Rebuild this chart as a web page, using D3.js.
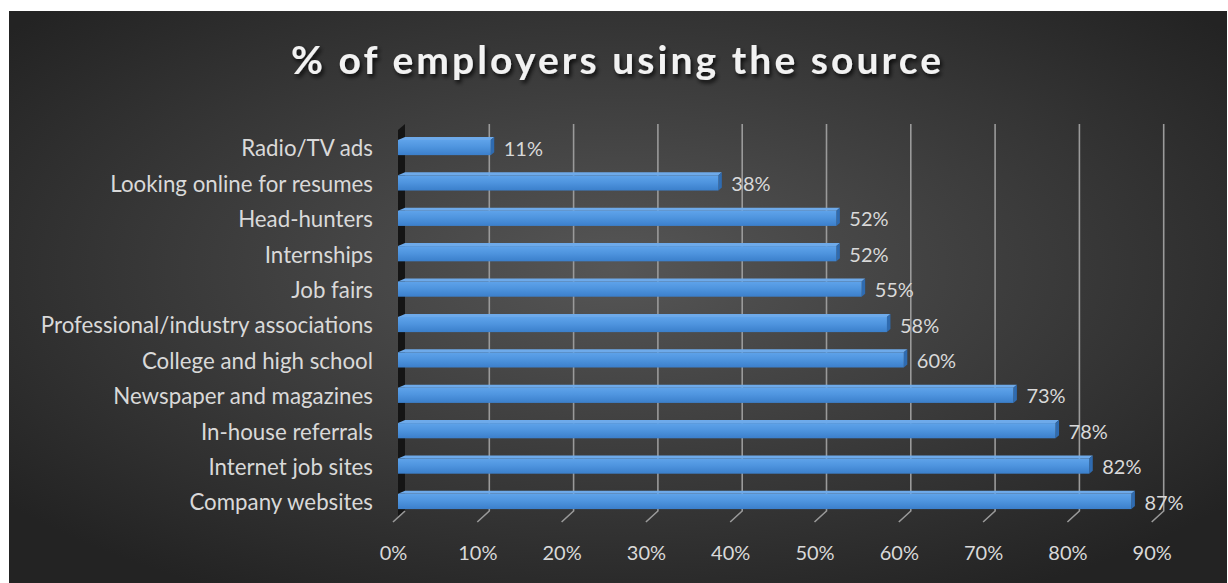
<!DOCTYPE html>
<html>
<head>
<meta charset="utf-8">
<script src="https://cdn.jsdelivr.net/npm/d3@7"></script>
<style>
  html, body { margin: 0; padding: 0; background: #fff; }
  svg { display: block; }
</style>
</head>
<body>
<div id="chart"></div>
<script>
const categories = [
  "Radio/TV ads",
  "Looking online for resumes",
  "Head-hunters",
  "Internships",
  "Job fairs",
  "Professional/industry associations",
  "College and high school",
  "Newspaper and magazines",
  "In-house referrals",
  "Internet job sites",
  "Company websites"
];
const values = [11, 38, 52, 52, 55, 58, 60, 73, 78, 82, 87];
const ticks = [0, 10, 20, 30, 40, 50, 60, 70, 80, 90];

const width = 1228, height = 583;
const depthX = 7, depthY = 6;

const svg = d3.select('#chart')
  .append('svg')
    .attr('width', width)
    .attr('height', height);

const defs = svg.append('defs');

const bg = defs.append('radialGradient')
  .attr('id', 'bg')
  .attr('cx', '50%').attr('cy', '45%').attr('r', '65%');
bg.append('stop').attr('offset', '0%').attr('stop-color', '#565656');
bg.append('stop').attr('offset', '100%').attr('stop-color', '#232323');

const barGrad = defs.append('linearGradient')
  .attr('id', 'barGrad')
  .attr('x1', 0).attr('y1', 0).attr('x2', 0).attr('y2', 1);
barGrad.append('stop').attr('offset', '0%').attr('stop-color', '#5fa3ea');
barGrad.append('stop').attr('offset', '45%').attr('stop-color', '#4f95df');
barGrad.append('stop').attr('offset', '100%').attr('stop-color', '#3b7fcb');

const shadow = defs.append('filter').attr('id', 'shadow')
  .attr('x', '-5%').attr('y', '-20%').attr('width', '110%').attr('height', '150%');
shadow.append('feDropShadow')
  .attr('dx', 2).attr('dy', 3).attr('stdDeviation', 2)
  .attr('flood-color', '#000').attr('flood-opacity', 0.8);

// background panel
svg.append('rect')
  .attr('x', 9).attr('y', 11)
  .attr('width', width - 10).attr('height', height - 11)
  .attr('fill', 'url(#bg)');

svg.append('text')
  .attr('x', 616).attr('y', 74)
  .attr('text-anchor', 'middle')
  .attr('fill', '#f2f2f2')
  .attr('font-family', 'Lato, sans-serif')
  .attr('font-size', 39)
  .attr('font-weight', 700)
  .attr('textLength', 650)
  .attr('lengthAdjust', 'spacing')
  .attr('filter', 'url(#shadow)')
  .text('% of employers using the source');

const x = d3.scaleLinear()
  .domain([0, 90])
  .range([398, 398 + 9 * 84.3]);

const y = d3.scaleBand()
  .domain(categories)
  .range([130, 519])
  .paddingInner(0.57)
  .paddingOuter(0.28);

const gridTop = 124, gridBottom = 511;

// back wall (left side)
svg.append('path')
  .attr('d', `M${x(0)},${gridTop + depthY} L${x(0) + depthX},${gridTop} L${x(0) + depthX},${gridBottom} L${x(0)},${gridBottom + depthY} Z`)
  .attr('fill', '#151515');

// gridlines with slanted floor ticks
const grid = svg.append('g');
grid.selectAll('path')
  .data(ticks.slice(1))
  .enter()
  .append('path')
    .attr('d', d => `M${x(d) + depthX},${gridTop} L${x(d) + depthX},${gridBottom} L${x(d) - 5},${gridBottom + 11}`)
    .attr('fill', 'none')
    .attr('stroke', '#9a9a9a')
    .attr('stroke-width', 1.6);
grid.append('path')
  .attr('d', `M${x(0) + depthX},${gridBottom} L${x(0) - 5},${gridBottom + 11}`)
  .attr('fill', 'none')
  .attr('stroke', '#9a9a9a')
  .attr('stroke-width', 1.6);

// bars
const bars = svg.append('g')
  .selectAll('g')
  .data(categories)
  .enter()
  .append('g');

bars.append('path')
  .attr('d', (d, i) => {
    const x0 = x(0), x1 = x(values[i]), y0 = y(d);
    return `M${x0},${y0} L${x0 + depthX},${y0 - 3} L${x1 + depthX / 2},${y0 - 3} L${x1},${y0} Z`;
  })
  .attr('fill', '#6eaaea');

bars.append('path')
  .attr('d', (d, i) => {
    const x1 = x(values[i]), y0 = y(d), h = y.bandwidth();
    return `M${x1},${y0} L${x1 + depthX / 2},${y0 - 3} L${x1 + depthX / 2},${y0 + h - 3} L${x1},${y0 + h} Z`;
  })
  .attr('fill', '#2f6bb0');

bars.append('rect')
  .attr('x', x(0))
  .attr('y', d => y(d))
  .attr('width', (d, i) => x(values[i]) - x(0))
  .attr('height', y.bandwidth())
  .attr('fill', 'url(#barGrad)');

// value labels
bars.append('text')
  .attr('x', (d, i) => x(values[i]) + 13)
  .attr('y', d => y(d) + y.bandwidth() / 2 + 3)
  .attr('dominant-baseline', 'middle')
  .attr('fill', '#d9d9d9')
  .attr('font-family', 'Lato, sans-serif')
  .attr('font-size', 20)
  .text((d, i) => values[i] + '%');

// category axis
const yAxis = d3.axisLeft(y).tickSize(0).tickPadding(0);
const yAxisGroup = svg.append('g')
  .attr('transform', 'translate(373,0)')
  .call(yAxis);
yAxisGroup.select('.domain').remove();
yAxisGroup.selectAll('text')
  .attr('fill', '#d9d9d9')
  .attr('font-family', 'Lato, sans-serif')
  .attr('font-size', 22.3)
  .attr('dy', '0.4em');

// value axis
const xAxis = d3.axisBottom(x)
  .tickValues(ticks)
  .tickFormat(d => d + '%')
  .tickSize(0);
const xAxisGroup = svg.append('g')
  .attr('transform', `translate(-5,543)`)
  .call(xAxis);
xAxisGroup.select('.domain').remove();
xAxisGroup.selectAll('text')
  .attr('fill', '#d9d9d9')
  .attr('font-family', 'Lato, sans-serif')
  .attr('font-size', 20);
</script>
</body>
</html>
